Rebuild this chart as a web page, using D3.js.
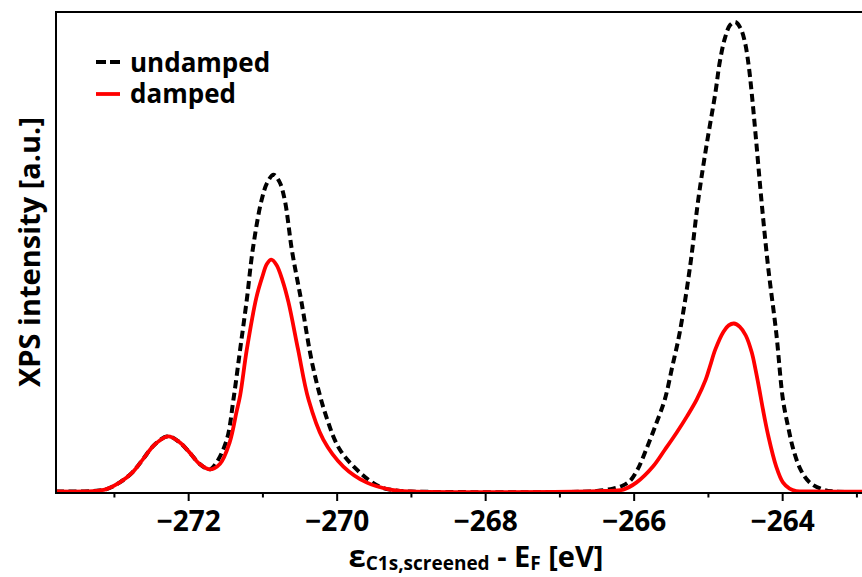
<!DOCTYPE html>
<html>
<head>
<meta charset="utf-8">
<script src="https://cdn.jsdelivr.net/npm/d3@7"></script>
<style>
  html, body { margin: 0; padding: 0; background: #fff; }
  svg { display: block; }
  text { font-family: "Open Sans", "DejaVu Sans", sans-serif; font-weight: 700; fill: #000; }
</style>
</head>
<body>
<svg id="chart" width="862" height="577"></svg>
<script>
// ---------------- data ----------------
const undampedEnergy = [-273.78,-273.40,-273.20,-273.10,-272.92,-272.75,-272.61,-272.45,-272.27,-272.12,-271.98,-271.85,-271.71,
  -271.62,-271.48,-271.39,-271.30,-271.21,-271.13,-271.01,-270.93,-270.85,-270.77,-270.70,-270.60,-270.48,-270.32,-270.14,-269.96,
  -269.69,-269.42,-269.20,-269.00,-266.60,-266.45,-266.28,-266.15,-266.05,-265.95,-265.83,-265.70,-265.58,-265.48,-265.38,-265.24,
  -265.13,-265.02,-264.90,-264.84,-264.77,-264.70,-264.63,-264.56,-264.50,-264.45,-264.41,-264.35,-264.28,-264.19,-264.08,-263.99,
  -263.92,-263.85,-263.75,-263.63,-263.45,-263.30,-262.60];
const undampedIntensity = [0,0,0.002,0.005,0.019,0.040,0.067,0.098,0.115,0.103,0.081,0.058,0.046,
  0.060,0.108,0.192,0.296,0.400,0.504,0.608,0.645,0.660,0.645,0.608,0.500,0.400,0.260,0.156,0.088,
  0.040,0.010,0.002,0,0,0.002,0.006,0.012,0.022,0.045,0.088,0.140,0.192,0.260,0.331,0.469,
  0.608,0.720,0.830,0.895,0.945,0.972,0.978,0.965,0.935,0.886,0.830,0.730,0.608,0.469,0.331,0.192,
  0.135,0.088,0.045,0.019,0.004,0,0];

const dampedEnergy = [-273.78,-273.40,-273.20,-273.10,-272.92,-272.75,-272.61,-272.45,-272.27,-272.12,-271.98,-271.85,-271.71,
  -271.57,-271.44,-271.35,-271.30,-271.21,-271.08,-271.00,-270.94,-270.88,-270.81,-270.73,-270.65,-270.52,-270.38,-270.18,-269.91,
  -269.60,-269.28,-269.00,-266.60,-266.40,-266.14,-265.96,-265.74,-265.58,-265.42,-265.28,-265.15,-265.03,-264.97,-264.90,-264.79,
  -264.72,-264.65,-264.57,-264.49,-264.41,-264.36,-264.31,-264.26,-264.19,-264.08,-263.99,-263.90,-263.81,-263.60,-262.60];
const dampedIntensity = [0,0,0.002,0.005,0.019,0.040,0.067,0.098,0.115,0.103,0.081,0.058,0.046,
  0.058,0.103,0.165,0.200,0.296,0.405,0.448,0.474,0.483,0.472,0.440,0.395,0.296,0.192,0.108,0.052,
  0.019,0.004,0,0,0.001,0.004,0.019,0.052,0.087,0.123,0.157,0.192,0.233,0.262,0.296,0.333,
  0.346,0.350,0.343,0.325,0.290,0.255,0.215,0.172,0.118,0.052,0.019,0.006,0.001,0,0];

const majorTicks = [-272, -270, -268, -266, -264];
const minorTicks = [-273, -271, -269, -267, -265, -263];
const legendLabels = ["undamped", "damped"];
const xTitleParts = ["ε", "C1s,screened", " - E", "F", " [eV]"];
const yTitle = "XPS intensity [a.u.]";

// ---------------- layout ----------------
const svg = d3.select("#chart");
const plotLeft = 56, plotTop = 12, plotBottom = 493;
const x = d3.scaleLinear().domain([-273.78, -262.6]).range([plotLeft, plotLeft + 11.18 * 74.25]);
const y = d3.scaleLinear().domain([0, 1]).range([491.5, 11.5]);

svg.append("rect").attr("width", 862).attr("height", 577).attr("fill", "#fff");

svg.append("defs").append("clipPath").attr("id", "plotclip")
  .append("rect").attr("x", plotLeft).attr("y", plotTop).attr("width", 862 - plotLeft).attr("height", plotBottom - plotTop);

const line = d3.line().x(d => x(d[0])).y(d => y(Math.max(0, d[1]))).curve(d3.curveCatmullRom.alpha(0.5));
const undamped = d3.zip(undampedEnergy, undampedIntensity);
const damped = d3.zip(dampedEnergy, dampedIntensity);

const g = svg.append("g").attr("clip-path", "url(#plotclip)");
g.append("path").datum(undamped).attr("d", line)
  .attr("fill", "none").attr("stroke", "#000").attr("stroke-width", 4)
  .attr("stroke-dasharray", "8,4.5");
g.append("path").datum(damped).attr("d", line)
  .attr("fill", "none").attr("stroke", "#ff0000").attr("stroke-width", 3.8);

// axes
const minorAxis = d3.axisBottom(x).tickValues(minorTicks).tickSize(4.5).tickFormat("");
const majorAxis = d3.axisBottom(x).tickValues(majorTicks).tickSize(8).tickPadding(10.5)
  .tickFormat(d3.format("d"));

const gMinor = svg.append("g").attr("transform", `translate(0,${plotBottom})`).call(minorAxis);
const gMajor = svg.append("g").attr("transform", `translate(0,${plotBottom})`).call(majorAxis);
[gMinor, gMajor].forEach(a => {
  a.select(".domain").remove();
  a.selectAll(".tick line").attr("stroke", "#000").attr("stroke-width", 2);
});
gMajor.selectAll(".tick text").style("font-size", "28px").style("font-family", "'Open Sans', sans-serif")
  .style("font-weight", 700).attr("fill", "#000");

// spines
svg.append("line").attr("x1", plotLeft).attr("x2", 862).attr("y1", plotBottom).attr("y2", plotBottom)
  .attr("stroke", "#000").attr("stroke-width", 2);
svg.append("line").attr("x1", plotLeft).attr("x2", 862).attr("y1", plotTop).attr("y2", plotTop)
  .attr("stroke", "#000").attr("stroke-width", 2);
svg.append("line").attr("x1", plotLeft).attr("x2", plotLeft).attr("y1", plotTop - 1).attr("y2", plotBottom + 1)
  .attr("stroke", "#000").attr("stroke-width", 2);

// x title
const xt = svg.append("text").attr("x", 476).attr("y", 567).attr("text-anchor", "middle")
  .style("font-size", "29px");
xt.append("tspan").text(xTitleParts[0]).style("font-size", "31px");
xt.append("tspan").text(xTitleParts[1]).style("font-size", "19px").attr("dy", 3);
xt.append("tspan").text(xTitleParts[2]).attr("dy", -3);
xt.append("tspan").text(xTitleParts[3]).style("font-size", "19px").attr("dy", 3);
xt.append("tspan").text(xTitleParts[4]).attr("dy", -3);

// y title
svg.append("text").attr("transform", "translate(40,252) rotate(-90)")
  .attr("text-anchor", "middle").style("font-size", "29px").text(yTitle);

// legend
const leg = svg.append("g");
leg.append("line").attr("x1", 96).attr("x2", 120).attr("y1", 62).attr("y2", 62)
  .attr("stroke", "#000").attr("stroke-width", 3.8).attr("stroke-dasharray", "10,4");
leg.append("line").attr("x1", 96).attr("x2", 120).attr("y1", 94).attr("y2", 94)
  .attr("stroke", "#ff0000").attr("stroke-width", 3.8);
leg.append("text").attr("x", 130).attr("y", 72).style("font-size", "26px").text(legendLabels[0]);
leg.append("text").attr("x", 130).attr("y", 103).style("font-size", "26px").text(legendLabels[1]);
</script>
</body>
</html>
